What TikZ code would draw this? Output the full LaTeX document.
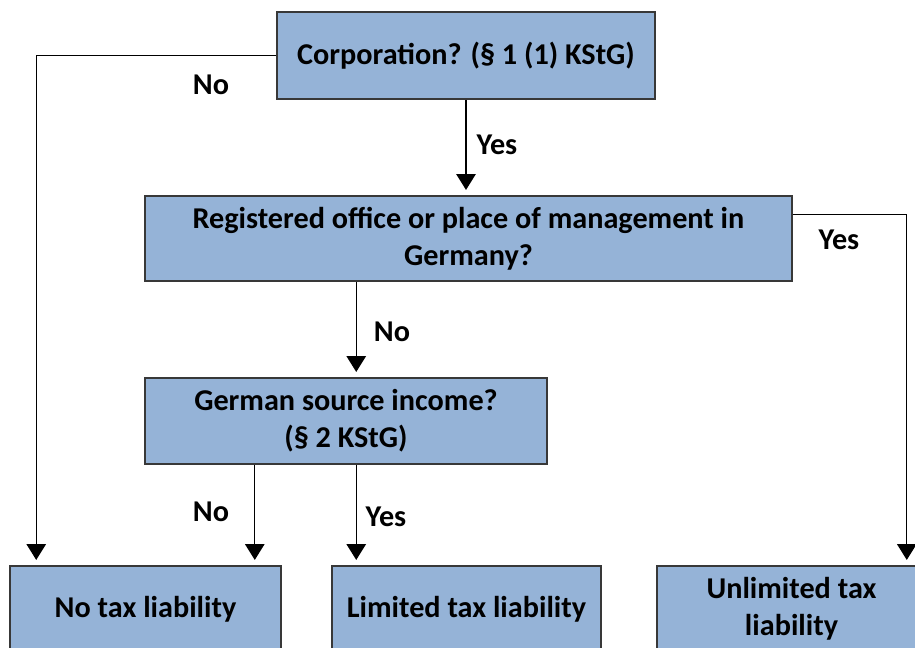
\documentclass[tikz,border=0pt]{standalone}
\usepackage{fontspec}
\setmainfont{Carlito}
\usetikzlibrary{arrows.meta,positioning}
\definecolor{boxfill}{HTML}{95B3D7}
\definecolor{boxline}{HTML}{383838}

\begin{document}
\begin{tikzpicture}[
  x=0.02cm, y=-0.02cm,
  font=\fontsize{17.2}{21}\selectfont\bfseries,
  qbox/.style={draw=boxline, fill=boxfill, line width=0.9pt, align=center, inner sep=2pt, minimum height=1.72cm},
  flow/.style={-{Triangle[length=9pt, width=11pt]}, draw=black, line width=0.8pt, shorten >=3pt},
  edgelbl/.style={inner sep=1pt},
]
\useasboundingbox (0,0) rectangle (915,648);
% questions
\node[qbox, minimum width=7.56cm, minimum height=1.74cm] (corp) at (466,55.5) {Corporation? (§ 1 (1) KStG)};
\node[qbox, minimum width=12.94cm, minimum height=1.70cm] (reg) at (468.5,238.5) {Registered office or place of management in\\Germany?};
\node[qbox, minimum width=8.04cm] (src) at (346,421) {German source income?\\(§ 2 KStG)};
% outcomes
\node[qbox, minimum width=5.42cm] (none) at (145.5,609) {No tax liability};
\node[qbox, minimum width=5.38cm] (lim) at (466.5,609) {Limited tax liability};
\node[qbox, minimum width=5.38cm] (unl) at (791.5,609) {Unlimited tax\\liability};
% connectors
\draw[flow] (corp.west) -| ([xshift=0.54cm]none.north west);
\draw[flow] (corp.south) -- (corp.south |- reg.north);
\draw[flow] ([yshift=-0.38cm]reg.north east) -| ([xshift=-0.4cm]unl.north east);
\draw[flow] ([xshift=0.5cm]lim.north west |- reg.south) -- ([xshift=0.5cm]lim.north west |- src.north);
\draw[flow] ([xshift=-0.54cm]none.north east |- src.south) -- ([xshift=-0.54cm]none.north east);
\draw[flow] ([xshift=0.5cm]lim.north west |- src.south) -- ([xshift=0.5cm]lim.north west);
% labels
\node[edgelbl] (l1) at (211,85) {No};
\node[edgelbl] (l2) at (497,145) {Yes};
\node[edgelbl] (l3) at (839,240) {Yes};
\node[edgelbl] (l4) at (392,332) {No};
\node[edgelbl] (l5) at (211,512) {No};
\node[edgelbl] (l6) at (386,517) {Yes};
\end{tikzpicture}
\end{document}
